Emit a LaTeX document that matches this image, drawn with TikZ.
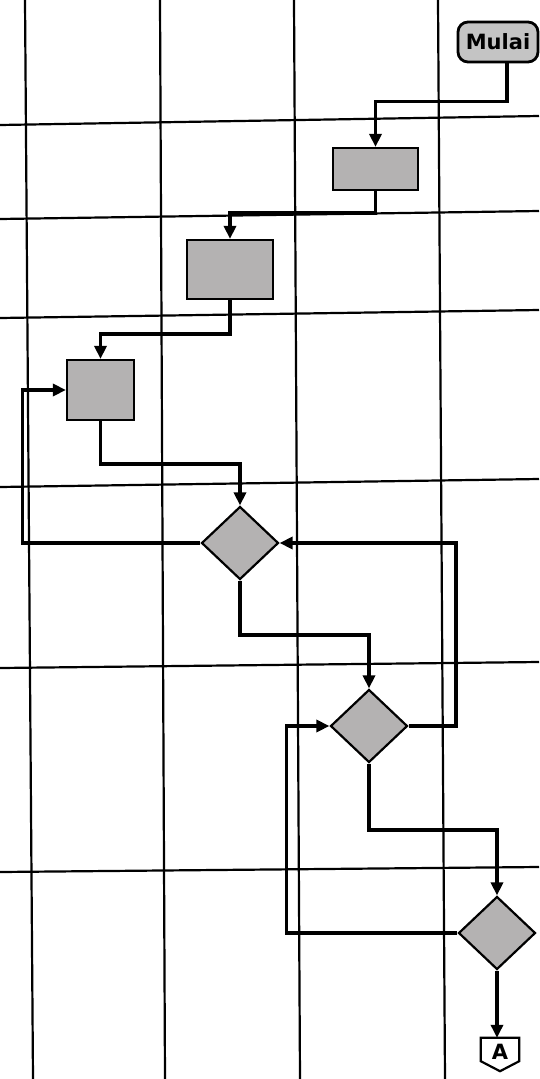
\documentclass[tikz,border=0pt]{standalone}
\usepackage{fontspec}
\setmainfont{DejaVu Sans}
\usetikzlibrary{shapes.geometric,arrows.meta}
\definecolor{boxgray}{RGB}{180,178,178}
\definecolor{startgray}{RGB}{196,196,196}
\tikzset{
  grid/.style={line width=2.2pt,black},
  conn/.style={line width=3.8pt,black,-{Triangle[length=13pt,width=12pt]}},
  procbox/.style={draw,line width=2.2pt,fill=boxgray,rectangle,inner sep=0pt},
  decision/.style={draw,line width=2.2pt,fill=boxgray,diamond,inner sep=0pt,minimum width=77pt,minimum height=73pt},
  startbox/.style={draw,line width=2.8pt,fill=startgray,rounded corners=10pt,inner sep=0pt,minimum width=80pt,minimum height=40pt,font=\bfseries\fontsize{21}{24}\selectfont},
}
\begin{document}
\begin{tikzpicture}[x=1pt,y=-1pt]
\useasboundingbox[fill=white] (0,0) rectangle (539,1079);
% grid
\draw[grid] (25,0) -- (33,1079);
\draw[grid] (160,0) -- (165,1079);
\draw[grid] (294,0) -- (300,1079);
\draw[grid] (438,0) -- (445,1079);
\draw[grid] (0,125) -- (539,116);
\draw[grid] (0,219) -- (539,211);
\draw[grid] (0,318) -- (539,310);
\draw[grid] (0,487) -- (539,479);
\draw[grid] (0,668) -- (539,662);
\draw[grid] (0,872) -- (539,867);
% nodes
\node[startbox] (mulai) at (498,42) {Mulai};
\node[procbox,minimum width=85pt,minimum height=42pt] (b1) at (375.5,169) {};
\node[procbox,minimum width=86pt,minimum height=59pt] (b2) at (230,269.5) {};
\node[procbox,minimum width=67pt,minimum height=60pt] (b3) at (100.5,390) {};
\node[decision] (d1) at (240,543) {};
\node[decision] (d2) at (369,726) {};
\node[decision] (d3) at (497,933) {};
\node[inner sep=0pt,minimum width=38pt,minimum height=33pt] (A) at (500,1054.5) {};
\draw[line width=2.2pt,fill=white] (A.north west) -- (A.north east) -- ([yshift=10pt]A.south east) -- (A.south) -- ([yshift=10pt]A.south west) -- cycle;
\node[inner sep=0pt,font=\bfseries\fontsize{21}{24}\selectfont] at ([yshift=3pt]A.center) {A};
% connectors
\draw[conn] ([xshift=9pt]mulai.south) -- ++(0,38) -| (b1.north);
\draw[conn] (b1.south) -- ++(0,22) -| (b2.north);
\draw[conn] (b2.south) -- ++(0,34) -| (b3.north);
\draw[conn] (b3.south) -- ++(0,43) -| (d1.north);
\draw[conn] (d1.west) -- ++(-178,0) |- (b3.west);
\draw[conn] (d1.south) -- ++(0,54) -| (d2.north);
\draw[conn] (d2.east) -- ++(47,0) |- (d1.east);
\draw[conn] (d2.south) -- ++(0,66) -| (d3.north);
\draw[conn] (d3.west) -- ++(-171,0) |- (d2.west);
\draw[conn] (d3.south) -- (d3.south |- A.north);
\end{tikzpicture}
\end{document}
